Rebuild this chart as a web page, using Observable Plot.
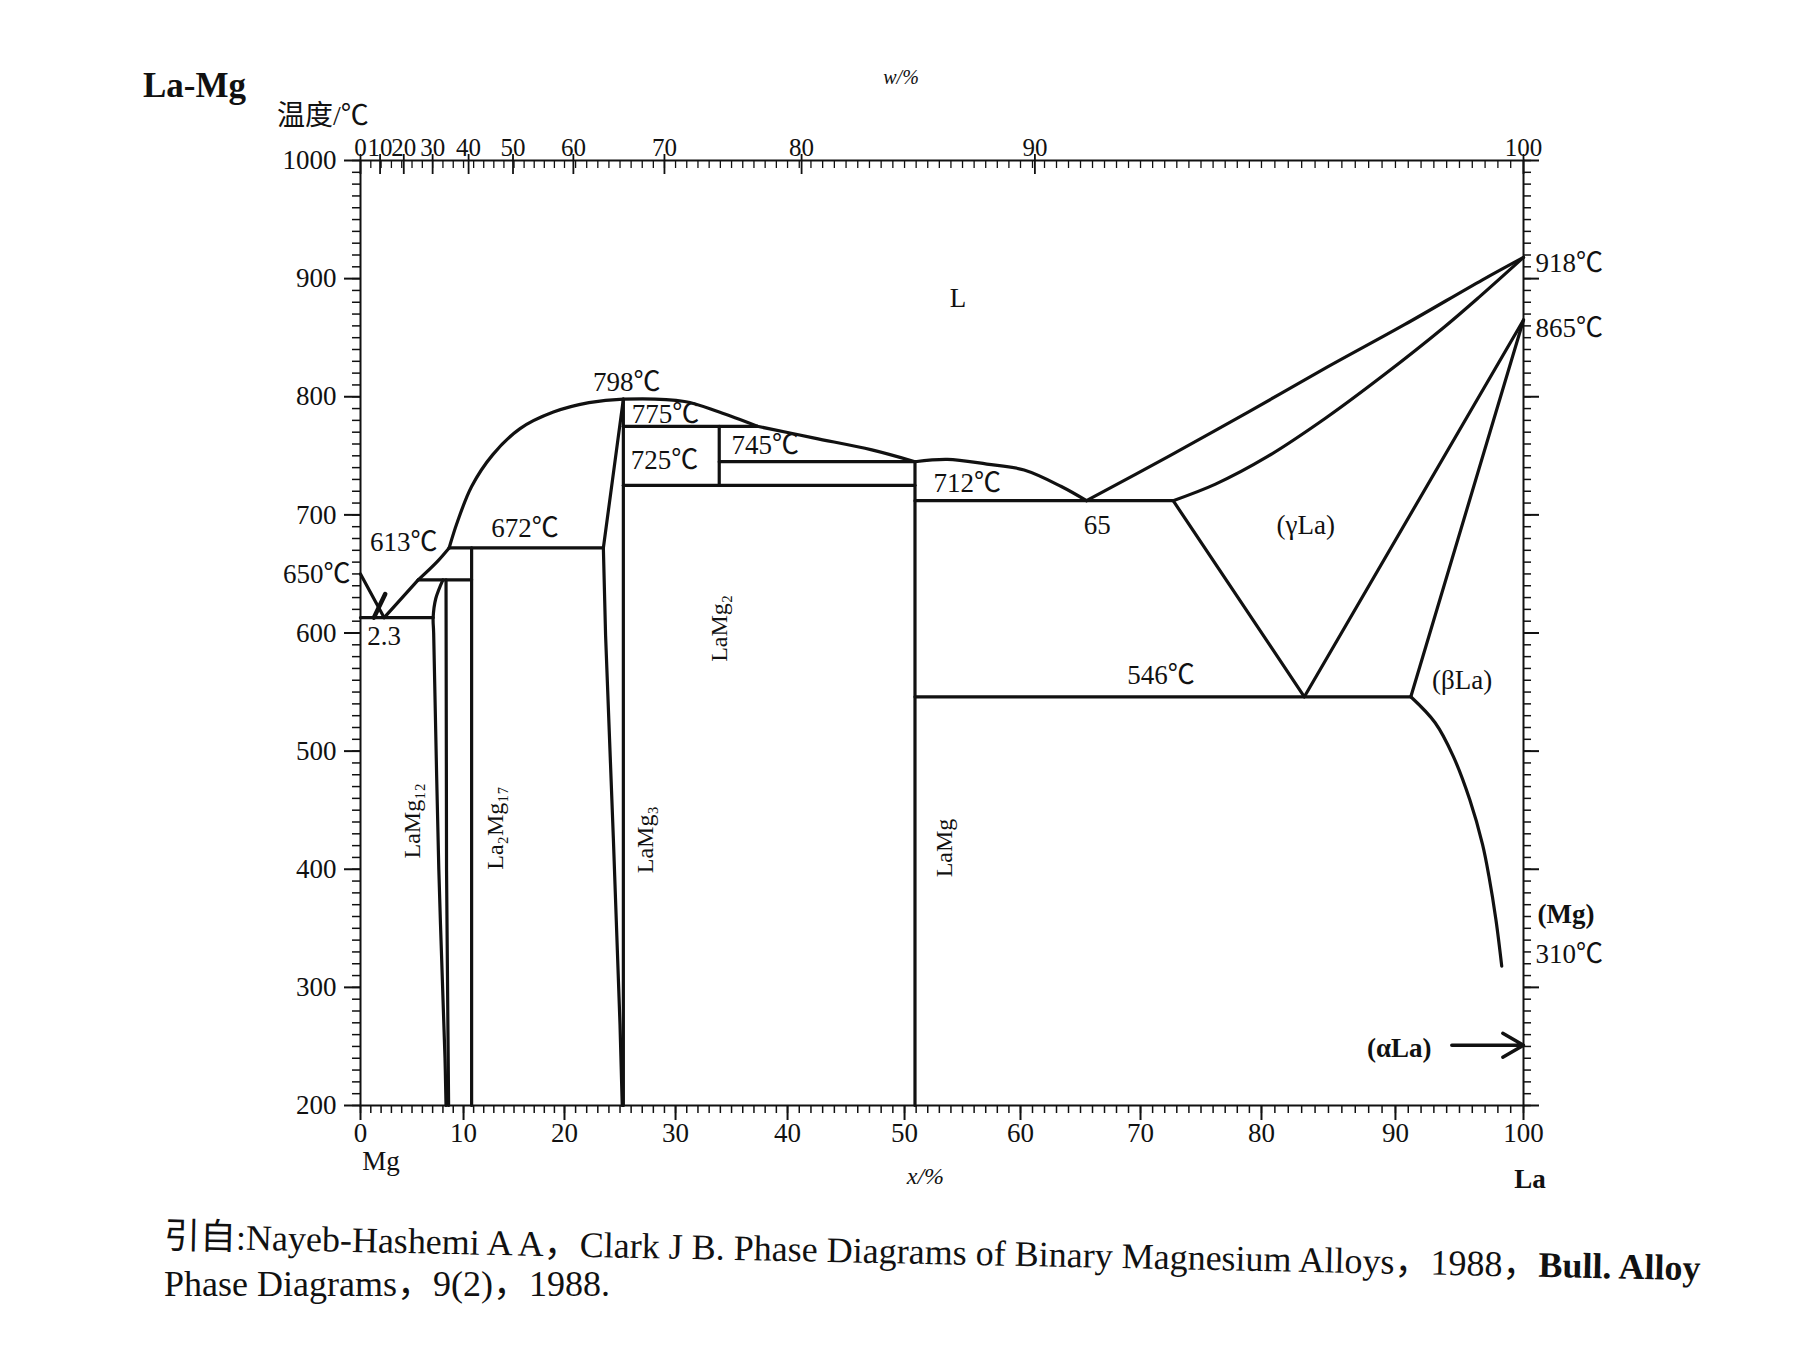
<!DOCTYPE html>
<html><head><meta charset="utf-8">
<script src="https://cdn.jsdelivr.net/npm/d3@7"></script>
<script src="https://cdn.jsdelivr.net/npm/@observablehq/plot@0.6"></script>
<style>
body{margin:0;background:#fff;width:1795px;height:1346px;position:relative;overflow:hidden;font-family:"Liberation Serif","Noto Sans CJK SC",serif;color:#111;}
#chart{position:absolute;left:0;top:0;}
.abs{position:absolute;line-height:1;white-space:nowrap;}
#title{left:143px;top:68px;font-weight:bold;font-size:35px;}
#ylab{left:277px;top:102px;font-size:28px;}
#cap1{left:164px;top:1218px;font-size:36px;transform:rotate(1.2deg);transform-origin:0 50%;}
#cap2{left:164px;top:1266px;font-size:36px;}
</style></head><body>
<div id="chart"></div>
<div class="abs" id="title">La-Mg</div>
<div class="abs" id="ylab">温度/℃</div>
<div class="abs" id="cap1">引自:Nayeb-Hashemi A A，Clark J B. Phase Diagrams of Binary Magnesium Alloys，1988，<b>Bull. Alloy</b></div>
<div class="abs" id="cap2">Phase Diagrams，9(2)，1988.</div>
<script>
// ---- axis ticks (x = La at.%, y = temperature °C) ----
const bottomTicks = [0, 10, 20, 30, 40, 50, 60, 70, 80, 90, 100];
// where each labelled at.% tick sits along the scanned axis (share of axis length, %)
const bottomTickScan = [0, 8.86, 17.54, 27.09, 36.72, 46.78, 56.75, 67.07, 77.47, 88.99, 100];
const leftTicks = [200, 300, 400, 500, 600, 700, 800, 900, 1000];
const topWtLabels = [0, 10, 20, 30, 40, 50, 60, 70, 80, 90, 100];          // w/% labels
const topWtAtPos = [0, 1.9, 4.2, 7.0, 10.5, 14.9, 20.8, 29.0, 41.2, 61.2, 100]; // their at.% positions

// ---- phase boundaries: [La at.%, T °C] ----
const mgLiquidus = [[0, 650], [2.3, 613]];
const mgEutectic = [[0, 613], [7.05, 613]];
const mgMark = [[1.3, 613], [2.4, 633]];
const liqA = [[2.3, 613], [5.6, 645]];
const liqB = [[5.6, 645], [7.4, 660], [8.6, 672]];
const liqC = [[8.6, 672], [9.4, 694], [10.8, 724], [12.9, 751], [15.6, 773], [18.9, 787], [22.2, 795], [25.3, 798], [30.8, 796], [33.9, 787], [37.3, 775]];
const per645 = [[5.6, 645], [10.8, 645]];
const laMg12L = [[8.0, 645], [7.3, 629], [7.05, 613], [7.1, 600], [7.6, 400], [8.2, 240], [8.3, 200]];
const laMg12R = [[8.3, 645], [8.35, 400], [8.55, 200]];
const la2Mg17 = [[10.8, 672], [10.8, 200]];
const per672 = [[8.6, 672], [23.5, 672]];
const laMg3L = [[25.3, 798], [23.5, 672], [23.7, 598], [24.4, 426], [25.0, 268], [25.2, 200]];
const laMg3R = [[25.3, 798], [25.3, 200]];
const per775 = [[25.3, 775], [37.3, 775]];
const laMg2 = [[33.9, 775], [33.9, 725]];
const per745 = [[33.9, 745], [50.9, 745]];
const liqD = [[37.3, 775], [42.3, 765], [47.2, 755], [50.9, 745]];
const eut725 = [[25.3, 725], [50.9, 725]];
const laMg = [[50.9, 745], [50.9, 200]];
const liqE = [[50.9, 745], [53.7, 747], [57.1, 743], [60.3, 738], [63.4, 724], [65.5, 712]];
const eut712 = [[50.9, 712], [72.7, 712]];
const liqF = [[65.5, 712], [72.4, 750], [78.9, 787], [84.9, 825], [90.7, 861], [96.8, 899], [100, 918]];
const solGamma = [[72.7, 712], [76.2, 726], [80.4, 749], [84.8, 782], [89.2, 819], [93.7, 858], [96.6, 885], [100, 918]];
const gammaLow = [[72.7, 712], [83.2, 546]];
const gammaBeta = [[83.2, 546], [100, 865]];
const betaLeft = [[91.2, 546], [100, 865]];
const eut546 = [[50.9, 546], [91.2, 546]];
const betaSolvus = [[91.2, 546], [93.1, 524], [94.5, 496], [95.8, 459], [96.8, 421], [97.3, 394], [97.85, 357], [98.3, 318]];

const straight = [mgLiquidus, mgEutectic, liqA, per645, laMg12R, la2Mg17, per672, laMg3L, laMg3R, per775, laMg2, per745, eut725, laMg, eut712, gammaLow, gammaBeta, betaLeft, eut546];
const curved = [liqB, liqC, laMg12L, liqD, liqE, liqF, solGamma, betaSolvus];

// ---- labels ----
const annot = [
  {t: "798℃", x: 25.6, y: 812}, {t: "775℃", x: 29.1, y: 785}, {t: "745℃", x: 38.0, y: 759},
  {t: "725℃", x: 29.0, y: 746}, {t: "712℃", x: 55.4, y: 727}, {t: "65", x: 66.4, y: 691},
  {t: "613℃", x: 4.2, y: 677}, {t: "672℃", x: 16.1, y: 689}, {t: "2.3", x: 2.3, y: 597},
  {t: "L", x: 54.6, y: 883}, {t: "(γLa)", x: 83.3, y: 691}, {t: "546℃", x: 71.7, y: 564},
  {t: "(βLa)", x: 95.2, y: 560}
];
const boldAnnot = [{t: "(αLa)", x: 90.3, y: 248}];
const phaseNames = [
  {t: "LaMg₁₂", x: 5.0, y: 441}, {t: "La₂Mg₁₇", x: 13.1, y: 435}, {t: "LaMg₃", x: 27.3, y: 425},
  {t: "LaMg₂", x: 33.9, y: 604}, {t: "LaMg", x: 53.4, y: 418}
];
const rightLabels = [{t: "918℃", y: 913}, {t: "865℃", y: 858}, {t: "310℃", y: 328}];
const rightBold = [{t: "(Mg)", y: 362}];
const leftLabels = [{t: "650℃", y: 650}];
const arrows = [{x1: 94.4, y1: 251, x2: 100, y2: 251}];

const W = 1795, H = 1212, mTop = 160, mBottom = H - 1105, mLeft = 360, mRight = W - 1523;
const fH = H - mTop - mBottom, fW = W - mLeft - mRight;
const FONT = "Liberation Serif, Noto Sans CJK SC, serif";
const INK = "#111";
const scanAxis = d3.scaleLinear(bottomTicks, bottomTickScan);

const lineMarks = [
  ...straight.map(p => Plot.line(p, {x: d => d[0], y: d => d[1], stroke: INK, strokeWidth: 3.2, curve: "linear"})),
  ...curved.map(p => Plot.line(p, {x: d => d[0], y: d => d[1], stroke: INK, strokeWidth: 3.2, curve: "catmull-rom"})),
  Plot.line(mgMark, {x: d => d[0], y: d => d[1], stroke: INK, strokeWidth: 4.5})
];

const topTicks = topWtLabels.map((w, i) => ({w, at: topWtAtPos[i]}));

const chart = Plot.plot({
  width: W, height: H,
  marginTop: mTop, marginBottom: mBottom, marginLeft: mLeft, marginRight: mRight,
  style: {fontFamily: FONT, background: "white", color: INK},
  x: {domain: [0, 100], transform: scanAxis, axis: null},
  y: {domain: [200, 1000], axis: null},
  marks: [
    Plot.frame({stroke: INK, strokeWidth: 2}),
    // bottom axis (outward ticks)
    Plot.ruleX(d3.range(0, 101, 1), {x: d => d, insetTop: fH, insetBottom: -8, stroke: INK, strokeWidth: 1.5}),
    Plot.ruleX(bottomTicks, {x: d => d, insetTop: fH, insetBottom: -15, stroke: INK, strokeWidth: 2}),
    Plot.text(bottomTicks, {x: d => d, text: d => String(d), frameAnchor: "bottom", dy: 36, fontSize: 27}),
    // top axis (w/%, inward ticks)
    Plot.ruleX(d3.range(1, 100, 1), {x: d => d, insetBottom: fH - 8, stroke: INK, strokeWidth: 1.3}),
    Plot.ruleX(topTicks, {x: "at", insetTop: -6, insetBottom: fH - 14, stroke: INK, strokeWidth: 1.8}),
    Plot.text(topTicks, {x: "at", text: d => String(d.w), frameAnchor: "top", dy: -22, fontSize: 25}),
    // left axis
    Plot.ruleY(d3.range(200, 1001, 10), {y: d => d, insetLeft: -8, insetRight: fW, stroke: INK, strokeWidth: 1.5}),
    Plot.ruleY(leftTicks, {y: d => d, insetLeft: -16, insetRight: fW, stroke: INK, strokeWidth: 2}),
    Plot.text(leftTicks, {y: d => d, text: d => String(d), frameAnchor: "left", dx: -24, textAnchor: "end", fontSize: 27}),
    // right axis
    Plot.ruleY(d3.range(200, 1001, 10), {y: d => d, insetLeft: fW, insetRight: -8, stroke: INK, strokeWidth: 1.5}),
    Plot.ruleY(leftTicks, {y: d => d, insetLeft: fW, insetRight: -16, stroke: INK, strokeWidth: 2}),
    // phase boundaries
    ...lineMarks,
    // labels
    Plot.text(annot, {x: "x", y: "y", text: "t", fontSize: 27}),
    Plot.text(boldAnnot, {x: "x", y: "y", text: "t", fontSize: 27, fontWeight: "bold"}),
    Plot.text(phaseNames, {x: "x", y: "y", text: "t", rotate: -90, fontSize: 24}),
    Plot.text(rightLabels, {y: "y", text: "t", frameAnchor: "right", dx: 12, textAnchor: "start", fontSize: 27}),
    Plot.text(rightBold, {y: "y", text: "t", frameAnchor: "right", dx: 14, textAnchor: "start", fontSize: 27, fontWeight: "bold"}),
    Plot.text(leftLabels, {y: "y", text: "t", frameAnchor: "left", dx: -10, textAnchor: "end", fontSize: 27}),
    Plot.arrow(arrows, {x1: "x1", y1: "y1", x2: "x2", y2: "y2", stroke: INK, strokeWidth: 3.5, headLength: 16}),
    // axis titles
    Plot.text(["Mg"], {x: 2, text: d => d, frameAnchor: "bottom", dy: 64, fontSize: 27}),
    Plot.text(["x/%"], {x: 51.8, text: d => d, frameAnchor: "bottom", dy: 78, fontSize: 24, fontStyle: "italic"}),
    Plot.text(["La"], {x: 100.5, text: d => d, frameAnchor: "bottom", dy: 82, fontSize: 27, fontWeight: "bold"}),
    Plot.text(["w/%"], {x: 49.7, text: d => d, frameAnchor: "top", dy: -91, fontSize: 20, fontStyle: "italic"})
  ]
});
document.getElementById("chart").appendChild(chart);
</script>
</body></html>
